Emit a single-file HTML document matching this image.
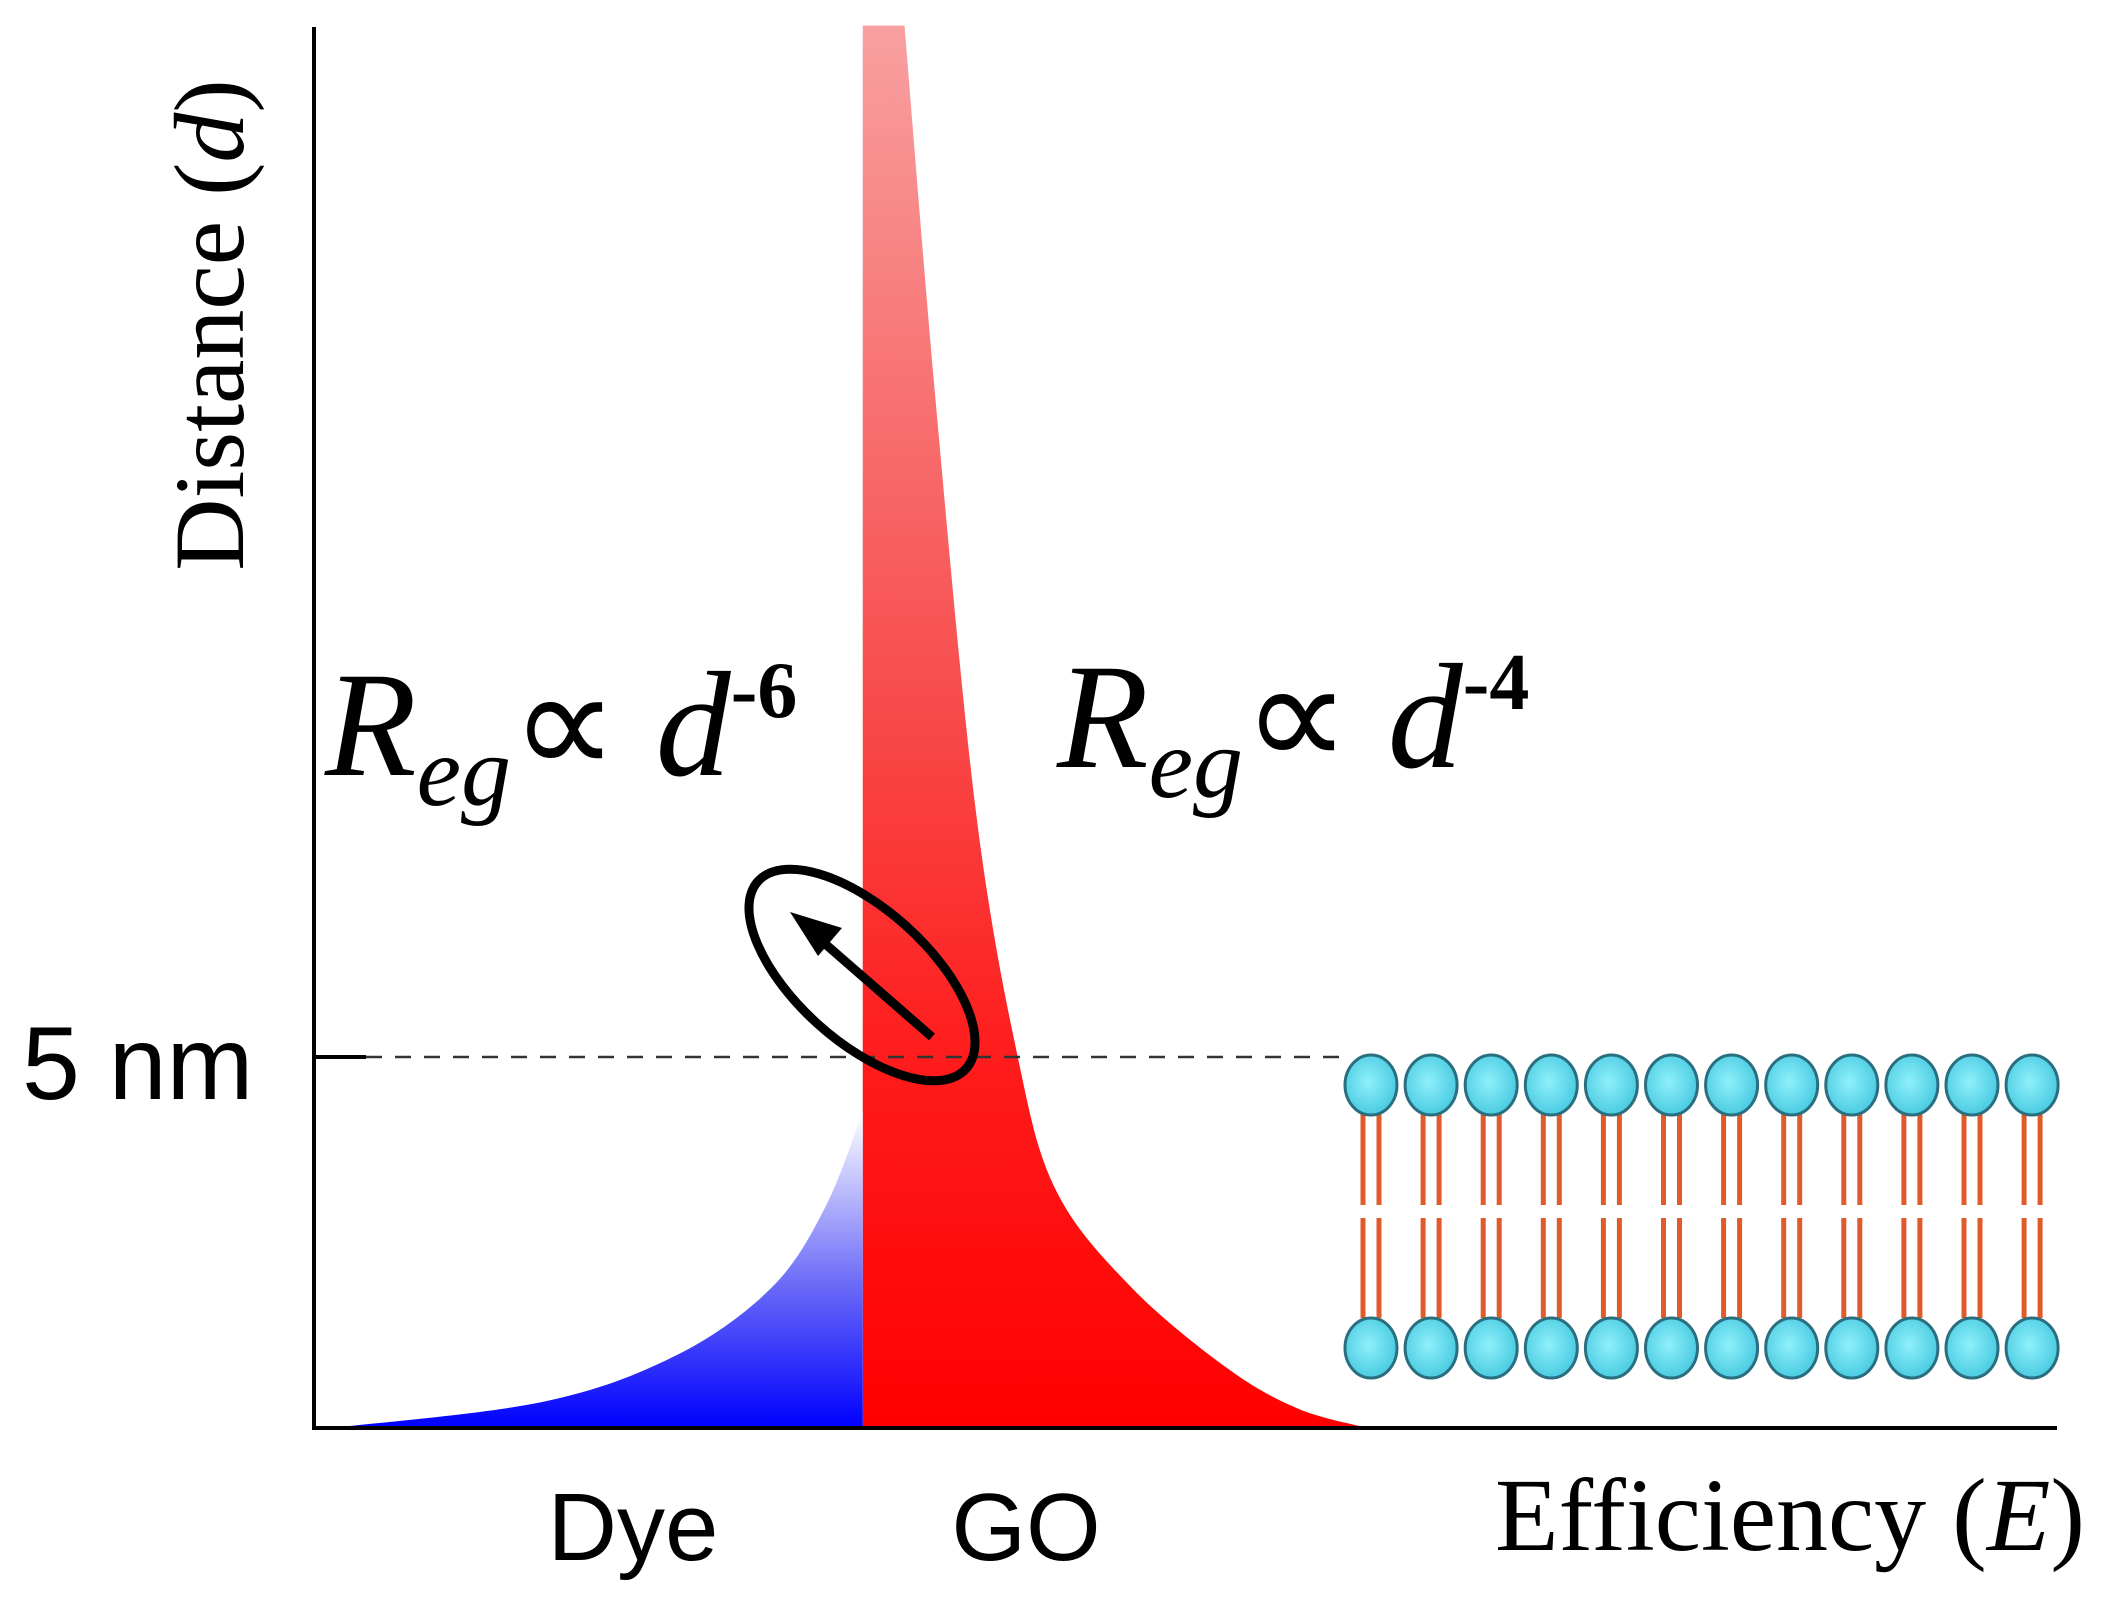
<!DOCTYPE html>
<html><head><meta charset="utf-8"><style>
html,body{margin:0;padding:0;background:#fff;}
svg{display:block;}
</style></head><body>
<svg id="chart" width="2124" height="1607" viewBox="0 0 2124 1607" xmlns="http://www.w3.org/2000/svg">
<defs>
<linearGradient id="redGrad" x1="0" y1="0" x2="0" y2="1">
<stop offset="0" stop-color="#f8a0a0"/><stop offset="0.5" stop-color="#f84848"/><stop offset="0.75" stop-color="#ff1a1a"/><stop offset="1" stop-color="#ff0000"/>
</linearGradient>
<linearGradient id="blueGrad" x1="0" y1="0" x2="0" y2="1">
<stop offset="0" stop-color="#ffffff"/><stop offset="0.55" stop-color="#6a6af8"/><stop offset="1" stop-color="#0000ff"/>
</linearGradient>
<radialGradient id="headGrad" cx="0.45" cy="0.45" r="0.6">
<stop offset="0" stop-color="#8ff0fa"/><stop offset="1" stop-color="#45c8e0"/>
</radialGradient>
</defs>
<g id="areas"></g>
<g id="membrane"></g>
<line x1="314" y1="27" x2="314" y2="1429" stroke="#000" stroke-width="4"/>
<line x1="312" y1="1428" x2="2057" y2="1428" stroke="#000" stroke-width="4"/>
<line x1="314" y1="1057" x2="366" y2="1057" stroke="#000" stroke-width="4"/>
<line x1="366" y1="1057" x2="1345" y2="1057" stroke="#333" stroke-width="2.5" stroke-dasharray="16,13"/>
<text x="22" y="1099" font-family="Liberation Sans, sans-serif" font-size="104">5 nm</text>
<text transform="translate(243,325) rotate(-90)" text-anchor="middle" font-family="Liberation Serif, serif" font-size="100">Distance  (<tspan font-style="italic">d</tspan>)</text>
<text x="1495" y="1550" font-family="Liberation Serif, serif" font-size="104">Efficiency (<tspan font-style="italic">E</tspan>)</text>
<text x="633" y="1560" text-anchor="middle" font-family="Liberation Sans, sans-serif" font-size="96">Dye</text>
<text x="1026" y="1560" text-anchor="middle" font-family="Liberation Sans, sans-serif" font-size="96">GO</text>
<text x="325" y="775" font-family="Liberation Serif, serif" font-size="150" font-style="italic">R<tspan font-size="100" dy="30">eg</tspan><tspan dy="-30" font-style="normal">∝ </tspan>d<tspan font-size="80" dy="-58" font-weight="bold" font-style="normal">-6</tspan></text>
<text x="1057" y="767" font-family="Liberation Serif, serif" font-size="150" font-style="italic">R<tspan font-size="100" dy="30">eg</tspan><tspan dy="-30" font-style="normal">∝ </tspan>d<tspan font-size="80" dy="-58" font-weight="bold" font-style="normal">-4</tspan></text>
<ellipse cx="862" cy="975" rx="140" ry="66" transform="rotate(42 862 975)" fill="none" stroke="#000" stroke-width="9"/>
<line x1="932" y1="1037" x2="815" y2="935" stroke="#000" stroke-width="9"/>
<polygon points="790,912 842,928 818,956" fill="#000"/>
</svg>
<script>
// Data (E = efficiency fraction, d = distance in nm)
const goE = [0.339,0.357,0.380,0.404,0.426,0.469,0.524,0.565,0.605];
const goD = [18.9,13.8,8.3,5.0,3.2,1.9,0.81,0.26,0.0];
const dyeE = [0.010,0.131,0.208,0.263,0.294,0.315];
const dyeD = [0.0,0.35,0.98,1.9,3.0,4.27];
const boundaryE = 0.315;
const lipidCount = 12;

const X0=314, X1=2056, Y0=1428, PXNM=74.2;
function xs(e){return X0+e*(X1-X0);}
function ys(d){return Y0-d*PXNM;}
const NS="http://www.w3.org/2000/svg";
function smoothPath(pts){
  let p="M"+pts[0][0]+","+pts[0][1];
  for(let i=0;i<pts.length-1;i++){
    const p0=pts[Math.max(0,i-1)],p1=pts[i],p2=pts[i+1],p3=pts[Math.min(pts.length-1,i+2)];
    const c1=[p1[0]+(p2[0]-p0[0])/6,p1[1]+(p2[1]-p0[1])/6];
    const c2=[p2[0]-(p3[0]-p1[0])/6,p2[1]-(p3[1]-p1[1])/6];
    p+=" C"+c1[0]+","+c1[1]+" "+c2[0]+","+c2[1]+" "+p2[0]+","+p2[1];
  }
  return p;
}
const areas=document.getElementById('areas');
const goPts=goE.map((e,i)=>[xs(e),ys(goD[i])]);
const red=document.createElementNS(NS,'path');
red.setAttribute('d',"M"+xs(boundaryE)+","+Y0+" L"+xs(boundaryE)+","+ys(goD[0])+" "+smoothPath(goPts).replace(/^M/,"L")+" Z");
red.setAttribute('fill','url(#redGrad)');


areas.appendChild(red);
const dyePts=dyeE.map((e,i)=>[xs(e),ys(dyeD[i])]);
const blue=document.createElementNS(NS,'path');
blue.setAttribute('d',smoothPath(dyePts)+" L"+xs(boundaryE)+","+Y0+" Z");
blue.setAttribute('fill','url(#blueGrad)');


areas.appendChild(blue);

const mem=document.getElementById('membrane');
for(let i=0;i<lipidCount;i++){
  const cx=1371+i*60.1;
  const g=document.createElementNS(NS,'g');
  
  
  [[-8,1110,1205],[8,1110,1205],[-8,1218,1318],[8,1218,1318]].forEach(t=>{
    const l=document.createElementNS(NS,'line');
    l.setAttribute('x1',cx+t[0]);l.setAttribute('x2',cx+t[0]);
    l.setAttribute('y1',t[1]);l.setAttribute('y2',t[2]);
    l.setAttribute('stroke','#e05a2a');l.setAttribute('stroke-width','5');
    g.appendChild(l);
  });
  [1085,1348].forEach(cy=>{
    const h=document.createElementNS(NS,'ellipse');
    h.setAttribute('cx',cx);h.setAttribute('cy',cy);
    h.setAttribute('rx',26);h.setAttribute('ry',30);
    h.setAttribute('fill','url(#headGrad)');h.setAttribute('stroke','#2a6f80');h.setAttribute('stroke-width','3');
    g.appendChild(h);
  });
  mem.appendChild(g);
}
</script>
</body></html>
